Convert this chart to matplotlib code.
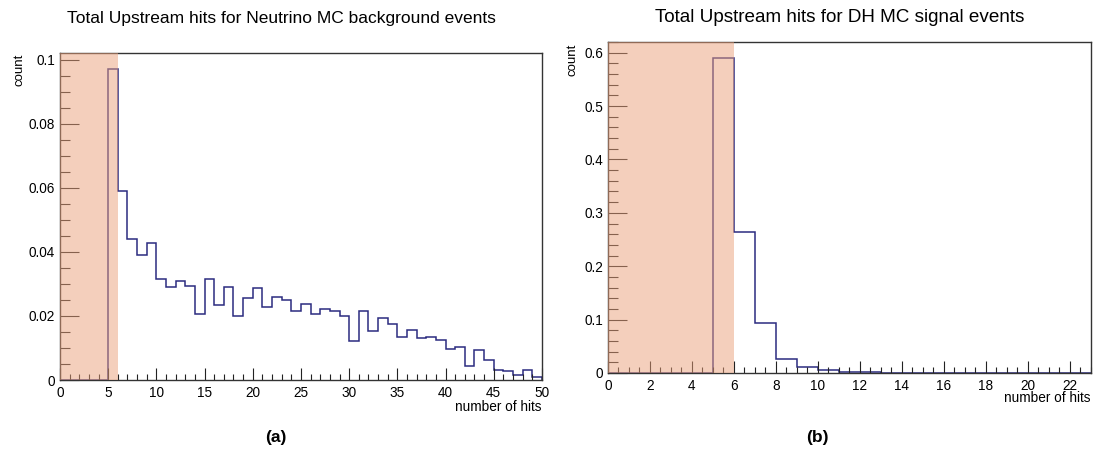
# Upstream hit multiplicity: neutrino MC background vs DH MC signal
import matplotlib
matplotlib.use("Agg")
import matplotlib.pyplot as plt
import numpy as np
from matplotlib.ticker import MultipleLocator, FuncFormatter

plt.rcParams["font.family"] = ["Liberation Sans", "DejaVu Sans"]

# ---------- data (normalised counts per 1-hit bin) ----------
bkg_edges = np.arange(0, 51)
bkg_counts = [0, 0, 0, 0, 0, 0.0971, 0.0591, 0.0441, 0.0391, 0.0428,
              0.0316, 0.0289, 0.0310, 0.0295, 0.0207, 0.0317, 0.0234, 0.0290, 0.0200, 0.0257,
              0.0286, 0.0229, 0.0260, 0.0249, 0.0216, 0.0238, 0.0206, 0.0221, 0.0214, 0.0200,
              0.0123, 0.0216, 0.0153, 0.0194, 0.0175, 0.0134, 0.0156, 0.0130, 0.0134, 0.0124,
              0.0097, 0.0103, 0.0043, 0.0094, 0.0061, 0.0032, 0.0029, 0.0016, 0.0032, 0.0008]

sig_edges = np.arange(0, 24)
sig_counts = [0, 0, 0, 0, 0, 0.590, 0.264, 0.093, 0.026, 0.011,
              0.006, 0.0015, 0.0013, 0, 0, 0, 0, 0, 0, 0,
              0, 0, 0]

cut_lo, cut_hi = 0, 6   # rejected region (hits < 6)

LINE = "#2b2b80"
SHADE = "#eba17b"


def g_fmt(v, pos):
    return f"{v:g}"


def style_axes(ax, xmaj, xmin, ymaj, ymin):
    ax.xaxis.set_major_locator(MultipleLocator(xmaj))
    ax.xaxis.set_minor_locator(MultipleLocator(xmin))
    ax.yaxis.set_major_locator(MultipleLocator(ymaj))
    ax.yaxis.set_minor_locator(MultipleLocator(ymin))
    ax.yaxis.set_major_formatter(FuncFormatter(g_fmt))
    ax.tick_params(which="both", direction="in", top=False, right=False,
                   labelsize=9.8, width=0.8, color="#222222")
    ax.tick_params(which="major", length=9)
    ax.tick_params(which="minor", length=4.5)
    ax.tick_params(axis="y", which="major", length=14)
    ax.tick_params(axis="y", which="minor", length=7)
    for s in ax.spines.values():
        s.set_linewidth(1.0)
        s.set_color("#333333")


fig = plt.figure(figsize=(11.02, 4.58), dpi=100)

# ---------- (a) background ----------
ax1 = fig.add_axes([0.0544, 0.1703, 0.4374, 0.713])
ax1.stairs(bkg_counts, bkg_edges, color=LINE, linewidth=1.1)
ax1.axvspan(cut_lo, cut_hi, color=SHADE, alpha=0.5, lw=0, zorder=5)
ax1.set_xlim(0, 50)
ax1.set_ylim(0, 0.102)
style_axes(ax1, 5, 1, 0.02, 0.005)
ax1.tick_params(axis="x", pad=4)
fig.text(0.255, 0.96, "Total Upstream hits for Neutrino MC background events",
         ha="center", va="center", fontsize=12.5)
fig.text(0.0544 - 0.037, 0.883, "count", rotation=90, ha="center", va="top", fontsize=9.5)
fig.text(0.4918, 0.112, "number of hits", ha="right", va="center", fontsize=9.8)
fig.text(0.25, 0.045, "(a)", ha="center", va="center", fontsize=12.5, fontweight="bold")

# ---------- (b) signal ----------
ax2 = fig.add_axes([0.5517, 0.1856, 0.438, 0.7227])
ax2.stairs(sig_counts, sig_edges, color=LINE, linewidth=1.1)
ax2.axvspan(cut_lo, cut_hi, color=SHADE, alpha=0.5, lw=0, zorder=5)
ax2.set_xlim(0, 23)
ax2.set_ylim(0, 0.62)
style_axes(ax2, 2, 0.5, 0.1, 0.02)
ax2.tick_params(axis="x", pad=4)
fig.text(0.762, 0.962, "Total Upstream hits for DH MC signal events",
         ha="center", va="center", fontsize=13.6)
fig.text(0.5517 - 0.032, 0.905, "count", rotation=90, ha="center", va="top", fontsize=9.5)
fig.text(0.9897, 0.132, "number of hits", ha="right", va="center", fontsize=9.8)
fig.text(0.742, 0.045, "(b)", ha="center", va="center", fontsize=12.5, fontweight="bold")

fig.savefig("out.png", dpi=100)
